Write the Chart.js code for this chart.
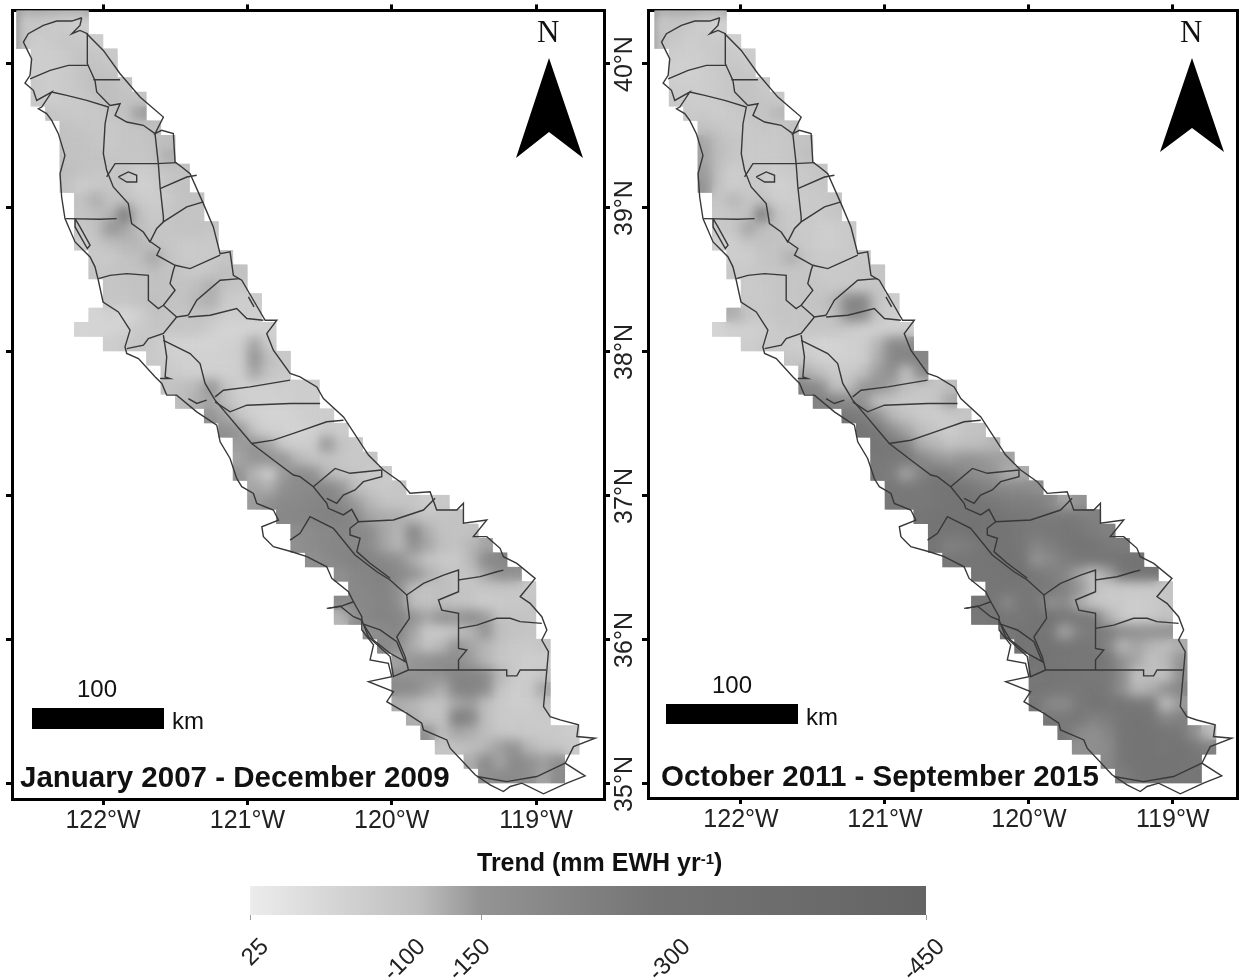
<!DOCTYPE html>
<html>
<head>
<meta charset="utf-8">
<script src="https://cdn.jsdelivr.net/npm/chart.js@4/dist/chart.umd.min.js"></script>
<style>
html,body{margin:0;padding:0;background:#fff;width:1243px;height:980px;overflow:hidden;font-family:"Liberation Sans",Arial,sans-serif;color:#111}
canvas{position:absolute}
.t{position:absolute;white-space:nowrap;line-height:1}
.bar{position:absolute;background:#000}
svg{position:absolute;left:0;top:0}
sup{font-size:60%;line-height:0;vertical-align:baseline;position:relative;top:-.5em}
</style>
</head>
<body>
<canvas id="mapA" width="622" height="840" style="left:0;top:0"></canvas>
<canvas id="mapB" width="636" height="840" style="left:612px;top:0"></canvas>
<canvas id="ramp" width="780" height="110" style="left:200px;top:870px"></canvas>
<svg width="1243" height="980">
<polygon points="549,58 583,158 549,132 516,158" fill="#000"/>
<polygon points="1192,58 1224,152 1192,128 1160,152" fill="#000"/>
</svg>
<div class="t" style="left:537px;top:14px;font:31px 'Liberation Serif',serif">N</div>
<div class="t" style="left:1180px;top:14px;font:31px 'Liberation Serif',serif">N</div>
<div class="t" style="left:77px;top:677px;font-size:24px">100</div>
<div class="bar" style="left:32px;top:708px;width:132px;height:21px"></div>
<div class="t" style="left:172px;top:709px;font-size:24px">km</div>
<div class="t" style="left:712px;top:673px;font-size:24px">100</div>
<div class="bar" style="left:666px;top:704px;width:132px;height:20px"></div>
<div class="t" style="left:806px;top:705px;font-size:24px">km</div>
<div class="t" style="left:20px;top:762px;font-size:29.5px;font-weight:bold">January 2007 - December 2009</div>
<div class="t" style="left:661px;top:761px;font-size:29.5px;font-weight:bold">October 2011 - September 2015</div>
<div class="t" style="left:477px;top:850px;font-size:25px;font-weight:bold">Trend (mm EWH yr<sup>-1</sup>)</div>
<script>
const lonTicks = [-122, -121, -120, -119];
const latTicks = [35, 36, 37, 38, 39, 40];
const legendTrend = [25, -100, -150, -300, -450];
const legendGrey = [236, 190, 148, 116, 100];
const legendRampAt = [0, 25, 34, 60, 100];
const legendLabelAt = [0, 23.2, 32.8, 62.4, 100];

const rowLat = [40.35,40.25,40.15,40.05,39.95,39.85,39.75,39.65,39.55,39.45,39.35,39.25,39.15,39.05,38.95,38.85,38.75,38.65,38.55,38.45,38.35,38.25,38.15,38.05,37.95,37.85,37.75,37.65,37.55,37.45,37.35,37.25,37.15,37.05,36.95,36.85,36.75,36.65,36.55,36.45,36.35,36.25,36.15,36.05,35.95,35.85,35.75,35.65,35.55,35.45,35.35,35.25,35.15,35.05];
const rowWest = [-122.6,-122.6,-122.6,-122.5,-122.5,-122.5,-122.5,-122.4,-122.3,-122.3,-122.3,-122.3,-122.3,-122.2,-122.2,-122.2,-122.2,-122.1,-122.1,-122.0,-122.0,-122.1,-122.2,-122.0,-121.7,-121.6,-121.6,-121.5,-121.3,-121.2,-121.1,-121.1,-121.1,-121.0,-121.0,-120.8,-120.7,-120.7,-120.6,-120.4,-120.3,-120.4,-120.4,-120.2,-120.1,-120.0,-120.0,-120.0,-120.0,-119.9,-119.8,-119.7,-119.5,-119.4];

const trend2007 = [
[-70,-80,-70,-60,-60],
[-80,-80,-70,-70,-60],
[-80,-60,-70,-80,-70,-60],
[-60,-60,-70,-90,-80,-70],
[-60,-60,-70,-90,-90,-80],
[-70,-60,-70,-80,-100,-100,-80],
[-70,-60,-70,-70,-90,-100,-90,-80],
[-80,-70,-70,-70,-80,-90,-140],
[-90,-80,-80,-70,-80,-80,-100],
[-90,-90,-80,-70,-80,-80,-90,-100],
[-90,-90,-90,-80,-80,-80,-90,-120],
[-100,-90,-80,-80,-80,-60,-70,-80,-90],
[-90,-60,-70,-80,-80,-50,-60,-80,-90],
[-90,-120,-90,-90,-70,-60,-70,-90,-90],
[-80,-100,-110,-280,-100,-70,-80,-90,-80],
[-80,-90,-150,-130,-100,-80,-80,-90,-90,-80],
[-60,-80,-100,-110,-110,-80,-80,-70,-70,-70],
[-70,-70,-90,-100,-130,-90,-70,-70,-70,-80],
[-80,-80,-90,-90,-100,-90,-80,-70,-80,-100,-90],
[-80,-80,-90,-90,-90,-90,-100,-120,-90,-80],
[-80,-80,-90,-100,-90,-90,-110,-120,-70,-60,-60],
[-40,-50,-30,-50,-90,-80,-80,-90,-80,-60,-60,-60],
[-40,-40,-40,-50,-70,-80,-80,-80,-80,-60,-40,-40,-40,-50],
[-60,-70,-80,-70,-50,-40,-40,-40,-50,-60,-130,-60],
[-70,-60,-50,-50,-50,-50,-60,-160,-100,-70],
[-70,-60,-50,-50,-50,-60,-130,-90,-70],
[-90,-100,-110,-170,-90,-50,-50,-50,-60,-60,-60],
[-100,-120,-130,-100,-60,-50,-50,-50,-60,-60],
[-150,-130,-80,-50,-40,-40,-50,-60,-60],
[-170,-150,-80,-50,-50,-40,-50,-70,-60],
[-140,-160,-130,-70,-60,-60,-150,-90,-70],
[-130,-150,-170,-150,-110,-90,-80,-80,-70,-80],
[-150,-110,-60,-140,-190,-170,-110,-90,-80,-70,-70],
[-130,-120,-170,-190,-200,-220,-150,-100,-80,-70,-80],
[-140,-170,-200,-200,-220,-220,-200,-140,-110,-90,-80,-80,-60,-70],
[-200,-220,-220,-240,-240,-200,-130,-120,-120,-100,-80,-90,-90],
[-180,-190,-200,-220,-200,-190,-130,-110,-230,-120,-90,-90,-90],
[-170,-190,-210,-220,-200,-190,-130,-110,-170,-130,-100,-90,-110,-130],
[-170,-190,-220,-240,-220,-200,-170,-120,-90,-70,-70,-110,-200,-210],
[-170,-210,-230,-230,-200,-170,-120,-100,-80,-90,-130,-180,-170],
[-200,-220,-230,-170,-100,-90,-100,-90,-80,-80,-80,-80,-70],
[-190,-200,-210,-230,-180,-100,-90,-100,-90,-80,-60,-70,-70,-80],
[-110,-170,-220,-230,-220,-160,-130,-170,-150,-190,-140,-90,-90,-80],
[-170,-190,-220,-130,-70,-70,-90,-110,-160,-100,-90,-80],
[-200,-170,-120,-90,-110,-170,-130,-110,-90,-70,-70,-80],
[-130,-150,-170,-190,-180,-140,-110,-80,-70,-60,-60],
[-170,-150,-150,-170,-220,-220,-200,-110,-70,-60,-80],
[-190,-200,-140,-120,-220,-230,-190,-90,-60,-70,-130],
[-120,-110,-90,-90,-130,-140,-100,-70,-60,-60,-80],
[-120,-90,-90,-260,-220,-100,-70,-70,-70,-70],
[-170,-100,-130,-120,-100,-80,-70,-70,-70,-70,-60],
[-80,-90,-100,-110,-140,-160,-110,-90,-80,-70],
[-120,-200,-130,-200,-170,-140,-180],
[-170,-190,-190,-180,-130,-190]
];

const trend2015 = [
[-70,-80,-80,-60,-50],
[-80,-90,-70,-60,-50],
[-90,-70,-60,-70,-70,-50],
[-60,-60,-60,-80,-70,-60],
[-50,-50,-60,-70,-80,-70],
[-60,-60,-60,-70,-80,-90,-70],
[-70,-60,-60,-70,-80,-90,-80,-70],
[-70,-70,-60,-70,-80,-80,-110],
[-90,-80,-70,-70,-80,-70,-90],
[-130,-100,-80,-70,-70,-70,-80,-90],
[-130,-100,-80,-70,-70,-70,-80,-100],
[-140,-90,-60,-70,-70,-60,-70,-70,-80],
[-150,-80,-60,-70,-70,-50,-60,-70,-80],
[-80,-110,-80,-90,-60,-60,-70,-70,-80],
[-70,-80,-90,-280,-90,-70,-70,-70,-80],
[-70,-80,-130,-100,-90,-70,-70,-60,-60,-70],
[-50,-60,-80,-90,-90,-80,-70,-60,-60,-70],
[-60,-60,-80,-90,-120,-80,-70,-70,-70,-70],
[-70,-70,-80,-80,-80,-80,-70,-70,-70,-80,-80],
[-70,-70,-80,-80,-80,-80,-70,-70,-70,-80],
[-70,-70,-80,-80,-80,-90,-110,-220,-220,-90,-60],
[-120,-90,-70,-80,-80,-80,-80,-100,-200,-190,-80,-60],
[-40,-50,-50,-60,-70,-80,-80,-80,-80,-70,-50,-50,-50,-50],
[-60,-70,-70,-60,-50,-40,-40,-50,-60,-110,-200,-190],
[-80,-70,-50,-50,-50,-60,-120,-210,-230,-220],
[-120,-100,-70,-70,-100,-140,-180,-90,-200],
[-220,-190,-100,-100,-150,-160,-130,-100,-80,-80,-100],
[-230,-240,-190,-150,-90,-80,-70,-70,-80,-130],
[-280,-260,-170,-110,-90,-70,-60,-70,-80],
[-290,-280,-180,-130,-100,-80,-60,-80,-90],
[-290,-280,-240,-120,-110,-90,-100,-100,-110],
[-280,-270,-280,-220,-150,-140,-160,-150,-140,-130],
[-270,-250,-130,-230,-280,-260,-200,-170,-160,-120,-120],
[-280,-270,-270,-290,-300,-290,-260,-220,-200,-200,-170],
[-280,-280,-280,-280,-300,-300,-290,-280,-260,-250,-250,-200,-130,-150],
[-290,-300,-300,-300,-300,-300,-290,-280,-270,-260,-280,-260,-240],
[-300,-290,-300,-300,-300,-300,-280,-270,-280,-290,-280,-260,-240],
[-290,-240,-250,-280,-300,-300,-280,-220,-250,-280,-300,-290,-270,-260],
[-280,-290,-290,-300,-300,-300,-150,-200,-250,-280,-290,-290,-300,-300],
[-290,-290,-300,-300,-280,-250,-220,-130,-90,-130,-280,-300,-300],
[-290,-290,-280,-280,-270,-230,-150,-100,-70,-70,-70,-70,-80],
[-290,-290,-200,-290,-280,-170,-200,-120,-80,-70,-70,-60,-70,-80],
[-280,-290,-290,-280,-300,-300,-280,-280,-270,-120,-70,-60,-70,-90],
[-280,-300,-300,-280,-130,-240,-270,-250,-190,-170,-170,-170],
[-300,-290,-300,-290,-290,-280,-220,-110,-130,-110,-100,-120],
[-300,-300,-290,-280,-290,-280,-160,-130,-90,-110,-150],
[-280,-290,-290,-280,-280,-270,-190,-90,-100,-90,-170],
[-290,-290,-280,-280,-290,-270,-170,-110,-120,-170,-220],
[-280,-200,-190,-270,-300,-290,-290,-280,-270,-100,-140],
[-280,-270,-280,-240,-260,-290,-300,-290,-210,-240],
[-280,-200,-170,-220,-290,-300,-300,-290,-280,-170,-100],
[-170,-180,-190,-290,-300,-300,-290,-300,-280,-240],
[-200,-290,-300,-300,-300,-300,-290],
[-250,-290,-300,-300,-290,-290]
];

const northWestCoast = [[-122.148,40.315],[-122.217,40.292],[-122.321,40.292],[-122.414,40.262],[-122.518,40.204],[-122.552,40.146],[-122.518,40.076],[-122.495,40.030],[-122.506,39.915],[-122.541,39.861],[-122.483,39.811],[-122.460,39.741],[-122.356,39.799],[-122.425,39.695],[-122.448,39.683],[-122.391,39.649],[-122.356,39.602],[-122.310,39.510],[-122.264,39.359],[-122.298,39.232],[-122.287,39.070],[-122.264,38.920],[-122.194,38.758],[-122.090,38.654],[-122.056,38.585],[-122.033,38.492],[-122.0,38.341],[-121.894,38.272],[-121.813,38.145],[-121.848,38.029],[-121.836,37.983],[-121.755,37.948],[-121.640,37.821],[-121.593,37.775],[-121.559,37.694],[-121.49,37.694],[-121.351,37.578],[-121.212,37.485],[-121.189,37.370],[-121.120,37.254],[-121.074,37.115],[-121.039,37.058],[-120.958,37.011],[-120.935,36.942],[-120.820,36.896],[-120.785,36.826],[-120.900,36.780],[-120.889,36.711],[-120.820,36.641],[-120.692,36.606],[-120.588,36.572],[-120.450,36.502],[-120.415,36.421],[-120.300,36.329],[-120.265,36.259],[-120.358,36.225],[-120.450,36.213]];
const southWestCoast = [[-120.265,36.259],[-120.207,36.155],[-120.207,36.063],[-120.126,35.959],[-120.150,35.855],[-120.023,35.831],[-120.0,35.739],[-120.161,35.704],[-119.988,35.635],[-120.034,35.565],[-119.895,35.484],[-119.792,35.415],[-119.780,35.369],[-119.618,35.299],[-119.595,35.242],[-119.422,35.057],[-119.318,34.987],[-119.226,34.941],[-119.179,34.976],[-119.098,34.999],[-118.948,34.925],[-118.787,34.999],[-118.660,35.050],[-118.798,35.138],[-118.740,35.253],[-118.590,35.311],[-118.717,35.323],[-118.706,35.404],[-118.833,35.438],[-118.902,35.461],[-118.948,35.531],[-118.925,35.785],[-118.914,35.912],[-118.960,35.993],[-118.925,36.063],[-118.960,36.155],[-119.041,36.248],[-119.110,36.294],[-119.006,36.421],[-119.133,36.525],[-119.226,36.572],[-119.249,36.630],[-119.341,36.711],[-119.434,36.711],[-119.341,36.827],[-119.503,36.804],[-119.503,36.943],[-119.549,36.896],[-119.688,36.896],[-119.734,37.023],[-119.873,37.012],[-119.942,37.093],[-120.057,37.174],[-120.161,37.278],[-120.334,37.543],[-120.473,37.670],[-120.519,37.751],[-120.635,37.821],[-120.704,37.844],[-120.820,38.006],[-120.866,38.122],[-120.796,38.214],[-120.877,38.214],[-120.958,38.353],[-121.039,38.492],[-121.097,38.526],[-121.120,38.689],[-121.189,38.677],[-121.236,38.862],[-121.305,39.024],[-121.397,39.232],[-121.455,39.278],[-121.501,39.313],[-121.513,39.510],[-121.594,39.533],[-121.640,39.510],[-121.582,39.625],[-121.744,39.764],[-121.882,39.926],[-121.998,40.088],[-122.113,40.204]];
const bakersfieldCurve = [[-119.410,35.045],[-119.203,35.010],[-118.995,35.045],[-118.798,35.138]];
const topHook = [[-122.148,40.315],[-122.160,40.262],[-122.217,40.204],[-122.160,40.227],[-122.109,40.204],[-122.109,39.996],[-122.056,39.880],[-122.044,39.799],[-121.952,39.706],[-121.882,39.718],[-121.917,39.637],[-121.836,39.591],[-121.721,39.568],[-121.640,39.510]];
const line1 = [[-122.506,39.891],[-122.367,39.949],[-122.240,39.984],[-122.102,39.984]];
const line2 = [[-122.067,39.884],[-121.882,39.884]];
const line3 = [[-122.356,39.799],[-122.252,39.776],[-122.113,39.741],[-121.963,39.695],[-121.986,39.579],[-121.998,39.371],[-121.975,39.255],[-121.929,39.140],[-121.825,39.024],[-121.802,38.885],[-121.721,38.827],[-121.675,38.758],[-121.628,38.851],[-121.582,38.897],[-121.420,39.001],[-121.305,39.036]];
const line4 = [[-122.259,38.920],[-122.021,38.915],[-121.906,38.920]];
const line5 = [[-121.686,38.770],[-121.605,38.712],[-121.628,38.666],[-121.501,38.596],[-121.397,38.573],[-121.189,38.666]];
const line6 = [[-121.975,39.209],[-121.917,39.302],[-121.628,39.302],[-121.490,39.309]];
const lake1 = [[-121.894,39.209],[-121.825,39.244],[-121.767,39.221],[-121.767,39.174],[-121.836,39.174],[-121.894,39.209]];
const line7 = [[-121.640,39.510],[-121.617,39.302],[-121.605,39.140],[-121.582,38.932],[-121.582,38.897]];
const line8 = [[-121.605,39.128],[-121.420,39.209],[-121.351,39.221]];
const lake2 = [[-122.194,38.920],[-122.160,38.862],[-122.090,38.735],[-122.109,38.712],[-122.194,38.862],[-122.194,38.920]];
const line9 = [[-122.032,38.503],[-121.952,38.526],[-121.836,38.538],[-121.686,38.526],[-121.686,38.353],[-121.617,38.295],[-121.582,38.318],[-121.490,38.237],[-121.409,38.249]];
const line10 = [[-121.501,38.596],[-121.513,38.561],[-121.536,38.468],[-121.501,38.422],[-121.582,38.318]];
const line11 = [[-121.409,38.249],[-121.351,38.353],[-121.189,38.492],[-121.051,38.503]];
const line12 = [[-121.409,38.237],[-121.258,38.249],[-121.074,38.295],[-121.004,38.226],[-120.889,38.214]];
const line13 = [[-121.490,38.237],[-121.582,38.122],[-121.686,38.087],[-121.720,38.041],[-121.836,38.017]];
const line14 = [[-121.582,38.110],[-121.559,37.960],[-121.570,37.821],[-121.536,37.809],[-121.605,37.809]];
const line15 = [[-121.582,38.075],[-121.397,37.983],[-121.328,37.913],[-121.293,37.775],[-121.224,37.659],[-120.970,37.358],[-120.820,37.243],[-120.681,37.139],[-120.635,37.128],[-120.543,37.058],[-120.450,36.943],[-120.439,36.908],[-120.335,36.862],[-120.277,36.901],[-120.231,36.815],[-119.988,36.827],[-119.780,36.896],[-119.699,36.977]];
const line16 = [[-121.224,37.682],[-121.166,37.728],[-120.981,37.751],[-120.704,37.798]];
const line17 = [[-121.224,37.647],[-121.120,37.578],[-121.004,37.624],[-120.704,37.636],[-120.496,37.636]];
const line18 = [[-120.970,37.358],[-120.820,37.381],[-120.681,37.428],[-120.450,37.509],[-120.334,37.520]];
const line19 = [[-120.543,37.058],[-120.392,37.185],[-120.289,37.151],[-120.069,37.174]];
const line20 = [[-120.450,36.977],[-120.381,36.943],[-120.335,37.0],[-120.254,37.035],[-120.196,37.093],[-120.069,37.128],[-120.069,37.174]];
const line21 = [[-120.231,36.815],[-120.289,36.769],[-120.289,36.723],[-120.219,36.700],[-120.242,36.607],[-120.150,36.526],[-120.011,36.422]];
const line22 = [[-121.409,37.670],[-121.351,37.636],[-121.282,37.659]];
const line23 = [[-120.704,36.687],[-120.635,36.734],[-120.566,36.850],[-120.404,36.769],[-120.254,36.584],[-120.103,36.467],[-120.011,36.410],[-119.896,36.306],[-119.780,36.387],[-119.641,36.444],[-119.537,36.479],[-119.537,36.410],[-119.387,36.433],[-119.272,36.467],[-119.226,36.479]];
const line24 = [[-119.896,36.306],[-119.877,36.144],[-119.965,36.016],[-119.907,35.878],[-119.884,35.785],[-119.537,35.785],[-119.203,35.785],[-119.203,35.744],[-119.133,35.744],[-119.110,35.785],[-118.930,35.785]];
const line25 = [[-119.537,36.410],[-119.537,36.329],[-119.676,36.271],[-119.653,36.201],[-119.537,36.178],[-119.537,35.935],[-119.480,35.924],[-119.537,35.855],[-119.537,35.785]];
const line26 = [[-119.537,36.074],[-119.410,36.097],[-119.272,36.144],[-119.179,36.144],[-119.110,36.121],[-118.960,36.109]];
const spit = [[-120.438,36.213],[-120.358,36.229],[-120.265,36.155],[-120.207,36.132],[-120.161,36.016],[-120.011,35.878],[-119.988,35.739],[-119.884,35.785]];
const lake3 = [[-120.196,36.104],[-120.080,36.063],[-119.965,35.982],[-119.907,35.843],[-120.011,35.901],[-120.127,35.993],[-120.196,36.104]];
const reservoir = [[-120.993,38.376],[-120.954,38.307]];

const outlines = [northWestCoast,southWestCoast,bakersfieldCurve,topHook,line1,line2,line3,line4,line5,line6,lake1,line7,line8,lake2,line9,line10,line11,line12,line13,line14,line15,line16,line17,line18,line19,line20,line21,line22,line23,line24,line25,line26,spit,lake3,reservoir];

function greyFor(v){
  for(let i=0;i<legendTrend.length-1;i++){
    if(v>=legendTrend[i+1]){
      const f=(legendTrend[i]-v)/(legendTrend[i]-legendTrend[i+1]);
      const g=Math.round(legendGrey[i]+f*(legendGrey[i+1]-legendGrey[i]));
      return `rgb(${g},${g},${g})`;
    }
  }
  const g=legendGrey[legendGrey.length-1];
  return `rgb(${g},${g},${g})`;
}

function cells(series){
  const out=[];
  series.forEach((row,i)=>row.forEach((v,j)=>out.push({x:rowWest[i]+0.05+0.1*j,y:rowLat[i],v})));
  return out;
}

const smoothHeat={
  id:'smoothHeat',
  afterDatasetDraw(chart,args){
    const ds=chart.data.datasets[args.index];
    if(!ds.isHeat) return;
    const c=chart.ctx,xs=chart.scales.x,ys=chart.scales.y;
    c.save();
    c.beginPath();
    ds.data.forEach(p=>{
      const l=xs.getPixelForValue(p.x-0.05),r=xs.getPixelForValue(p.x+0.05);
      const t=ys.getPixelForValue(p.y+0.05),b=ys.getPixelForValue(p.y-0.05);
      c.rect(l-0.2,t-0.2,r-l+0.4,b-t+0.4);
    });
    c.clip();
    c.beginPath();
    c.rect(chart.chartArea.left,chart.chartArea.top,chart.chartArea.width,chart.chartArea.height);
    c.clip();
    c.filter='blur(6px)';
    c.drawImage(chart.canvas,0,0);
    c.restore();
  }
};

function fixed(prop,n){return s=>{s[prop]=n;s.paddingTop=0;s.paddingBottom=0;s.paddingLeft=0;s.paddingRight=0;};}
function setTicks(arr){return s=>{s.ticks=arr.map(value=>({value}));};}
const tickGrid={drawOnChartArea:false,drawTicks:true,tickLength:6,lineWidth:3,color:'#000'};
const frameBorder={display:true,color:'#000',width:3};
const labelFont={family:'"Liberation Sans",Arial,sans-serif',size:25};

function mapChart(id,series,o){
  const datasets=[{
    isHeat:true,type:'scatter',order:2,
    data:cells(series),
    pointStyle:'rect',pointRadius:10.4,pointBorderWidth:0,
    backgroundColor:c=>c.raw?greyFor(c.raw.v):'#ccc',
    borderWidth:0
  }];
  outlines.forEach(path=>datasets.push({
    type:'line',order:1,
    data:path.map(p=>({x:p[0],y:p[1]})),
    borderColor:'#383838',borderWidth:1.4,pointRadius:0,fill:false,tension:0,
    parsing:false
  }));
  return new Chart(document.getElementById(id),{
    data:{datasets},
    plugins:[smoothHeat],
    options:{
      responsive:false,animation:false,events:[],
      layout:{padding:0},
      plugins:{legend:{display:false},tooltip:{enabled:false},title:{display:false}},
      scales:{
        x:{type:'linear',position:'bottom',z:1,min:o.lonMin,max:o.lonMax,
           afterBuildTicks:setTicks(lonTicks),afterFit:fixed('height',o.bottom),
           grid:tickGrid,border:frameBorder,
           ticks:{font:labelFont,color:'#222',padding:1,maxRotation:0,minRotation:0,autoSkip:false,callback:v=>`${-v}°W`}},
        xTop:{type:'linear',position:'top',z:1,min:o.lonMin,max:o.lonMax,
           afterBuildTicks:setTicks(lonTicks),afterFit:fixed('height',10),
           grid:tickGrid,border:frameBorder,ticks:{display:false}},
        y:{type:'linear',position:'left',z:1,min:o.latMin,max:o.latMax,
           afterBuildTicks:setTicks(latTicks),afterFit:fixed('width',o.left),
           grid:tickGrid,border:frameBorder,
           ticks:o.latLabels
             ?{display:true,font:labelFont,color:'#222',minRotation:90,maxRotation:90,padding:17,labelOffset:-27,autoSkip:false,callback:v=>`${v}°N`}
             :{display:false}},
        yRight:{type:'linear',position:'right',z:1,min:o.latMin,max:o.latMax,
           afterBuildTicks:o.rightTicks?setTicks(latTicks):setTicks([]),afterFit:fixed('width',o.right),
           grid:tickGrid,border:frameBorder,ticks:{display:false}}
      }
    }
  });
}

mapChart('mapA',trend2007,{lonMin:-122.631,lonMax:-118.529,latMin:34.889,latMax:40.366,bottom:41,left:12,right:18,latLabels:false,rightTicks:true});
mapChart('mapB',trend2015,{lonMin:-122.646,lonMax:-118.55,latMin:34.896,latMax:40.366,bottom:42,left:36,right:10,latLabels:true,rightTicks:false});

const extraTickAt=34.3;
const rampTicks=legendLabelAt.map((value,i)=>({value,lab:String(legendTrend[i])}));
new Chart(document.getElementById('ramp'),{
  type:'bar',
  data:{labels:['ramp'],datasets:[{
    data:[[0,100]],barPercentage:1,categoryPercentage:1,borderWidth:0,
    backgroundColor:ctx=>{
      const a=ctx.chart.chartArea; if(!a) return '#999';
      const g=ctx.chart.ctx.createLinearGradient(a.left,0,a.right,0);
      legendRampAt.forEach((p,i)=>{const v=legendGrey[i];g.addColorStop(p/100,`rgb(${v},${v},${v})`);});
      return g;
    }
  }]},
  options:{
    indexAxis:'y',responsive:false,animation:false,events:[],
    layout:{padding:{left:50,right:54,top:16,bottom:0}},
    plugins:{legend:{display:false},tooltip:{enabled:false}},
    scales:{
      y:{display:false,afterFit:fixed('width',0)},
      x:{type:'linear',min:0,max:100,position:'bottom',
         afterBuildTicks:s=>{s.ticks=[...rampTicks.map(t=>({value:t.value})),{value:extraTickAt}];},
         afterFit:fixed('height',65),
         grid:{drawOnChartArea:false,tickLength:5,lineWidth:1,
               color:c=>{const v=c.tick?c.tick.value:null;return (v===0||v===100||v===extraTickAt)?'#9a9a9a':'rgba(0,0,0,0)';}},
         border:{display:false},
         ticks:{font:{family:labelFont.family,size:24},color:'#222',minRotation:45,maxRotation:45,labelOffset:15,padding:13,autoSkip:false,
                callback:v=>{const t=rampTicks.find(r=>r.value===v);return t?t.lab:'';}}}
    }
  }
});
</script>
</body>
</html>
